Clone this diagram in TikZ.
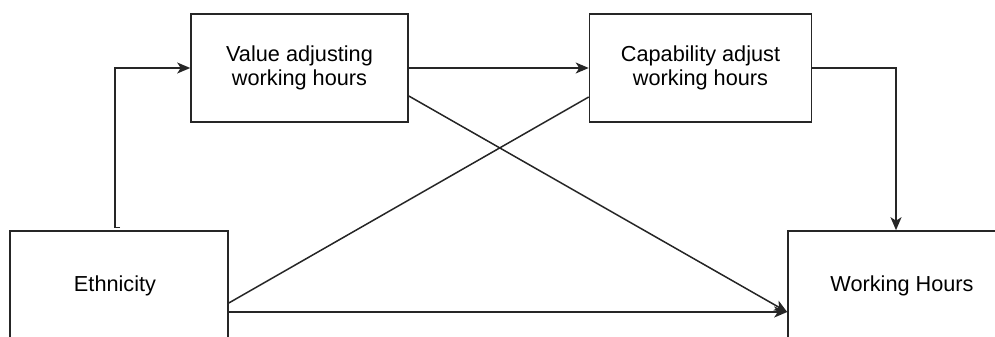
\documentclass[tikz,border=0pt]{standalone}
\usepackage{fontspec}
\setmainfont{Liberation Sans}
\usetikzlibrary{arrows.meta,calc}
\begin{document}
\begin{tikzpicture}[x=1pt,y=-1pt,
  box/.style={draw=black!85,line width=1.6pt,minimum width=#1,minimum height=108pt,inner sep=0pt,align=center,
    font=\fontsize{21.7}{24}\selectfont},
  conn/.style={draw=black!85,line width=1.5pt},
  arr/.style={conn,-{Stealth[length=13pt,width=11pt,inset=3.5pt]}}]
\useasboundingbox (0,0) rectangle (995,337);
\clip (0,0) rectangle (995,337);
\node[box=217pt] (val) at (299.5,68) {Value adjusting\\working hours};
\node[box=222pt] (cap) at (700.5,68) {Capability adjust\\working hours};
\node[box=218pt,minimum height=110pt] (eth) at (119,286) {Ethnicity\hspace*{8pt}};
\node[box=228pt,minimum height=110pt] (wh) at (902,286) {Working Hours};
% connectors
\draw[conn] ([xshift=1pt,yshift=2.5pt]eth.north) -- ([xshift=-4pt,yshift=2.5pt]eth.north);
\draw[arr] ([xshift=-4pt,yshift=2.5pt]eth.north) |- (val.west);
\draw[arr] (val.east) -- (cap.west);
\draw[arr] (cap.east) -| ([xshift=-6pt]wh.north);
\draw[conn] ([yshift=-29pt]cap.west) -- ([yshift=-17pt]eth.east);
\draw[arr] ([yshift=-28pt]val.east) -- ([yshift=-26pt]wh.west);
\draw[arr] ([yshift=-26pt]eth.east) -- ([yshift=-26pt]wh.west);
\end{tikzpicture}
\end{document}
